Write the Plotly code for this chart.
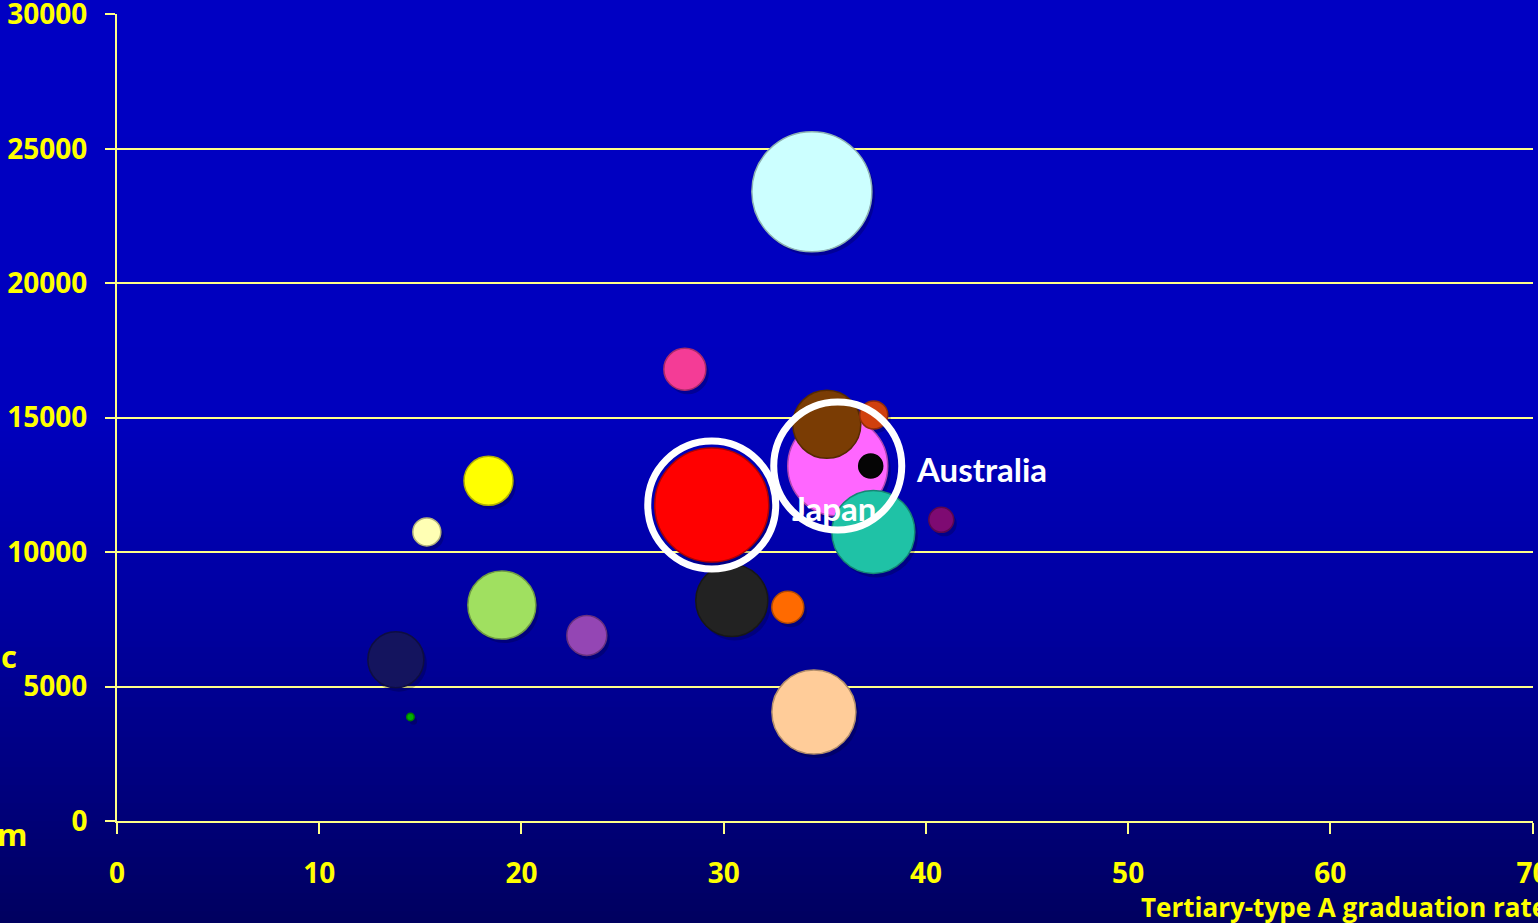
import plotly.graph_objects as go

# ---- data -------------------------------------------------------------
grad_rate = [34.36, 30.40, 34.46, 29.41, 35.64, 37.40, 35.10, 37.42, 37.27,
             28.08, 18.37, 15.32, 19.03, 23.23, 13.79, 14.51, 33.17, 40.76]
spending = [23400, 8200, 4050, 11750, 13200, 10750, 14750, 15100, 13200,
            16800, 12650, 10750, 8030, 6900, 6000, 3870, 7950, 11200]
bubble_value = [3600, 1296, 1764, 3249, 2500, 1722, 1156, 196, 144,
                441, 600, 196, 1156, 400, 784, 14, 256, 156]
bubble_color = ["#CCFFFF", "#222222", "#FFCC99", "#FF0000", "#FF66FF", "#1FC2A6",
                "#7A3C04", "#D0400E", "#050505", "#F43C96", "#FFFF00", "#FFFFB4",
                "#A0E060", "#9446B4", "#14145E", "#00B000", "#FF6A00", "#7E0A72"]
labels = {"Japan": 3, "Australia": 4}

x_ticks = [0, 10, 20, 30, 40, 50, 60, 70]
y_ticks = [0, 5000, 10000, 15000, 20000, 25000, 30000]

W, H = 1538, 923
M_L, M_R, M_T, M_B = 117, 5, 14, 102
PLOT_W = W - M_L - M_R
PLOT_H = H - M_T - M_B
X_RANGE = [0, 70.02]
Y_RANGE = [0, 30010]
SIZEREF = 0.5

GRID = "#FFFF88"
YELLOW = "#FFFF00"


def darker(hex_color, f=0.7):
    h = hex_color.lstrip("#")
    r, g, b = (int(h[i:i + 2], 16) for i in (0, 2, 4))
    return "rgb({},{},{})".format(int(r * f), int(g * f), int(b * f))


fig = go.Figure()

# soft drop shadow under each bubble (a few pixels right and down)
dx = 3 * (X_RANGE[1] - X_RANGE[0]) / PLOT_W
dy = 4 * (Y_RANGE[1] - Y_RANGE[0]) / PLOT_H
fig.add_trace(go.Scatter(
    x=[v + dx for v in grad_rate], y=[v - dy for v in spending],
    mode="markers", hoverinfo="skip", showlegend=False,
    marker=dict(size=bubble_value, sizemode="area", sizeref=SIZEREF,
                color="rgba(0,0,30,0.35)", line=dict(width=0)),
))

# the bubbles
fig.add_trace(go.Scatter(
    x=grad_rate, y=spending, mode="markers", showlegend=False,
    marker=dict(size=bubble_value, sizemode="area", sizeref=SIZEREF,
                color=bubble_color, opacity=1,
                line=dict(width=1.5, color=[darker(c) for c in bubble_color])),
))

# vertical background gradient
stops = [(0, (0, 0, 196)), (420, (0, 0, 190)), (620, (0, 0, 160)),
         (780, (0, 0, 128)), (923, (0, 0, 96))]


def bg_at(py):
    for (a, ca), (b, cb) in zip(stops[:-1], stops[1:]):
        if a <= py <= b:
            t = (py - a) / (b - a)
            return tuple(int(ca[i] + (cb[i] - ca[i]) * t) for i in range(3))
    return stops[-1][1]


shapes = []
step = 6
for py in range(0, H, step):
    c = bg_at(py + step / 2)
    shapes.append(dict(
        type="rect", xref="paper", yref="paper", layer="below",
        x0=-M_L / PLOT_W - 0.01, x1=1 + M_R / PLOT_W + 0.01,
        y0=(H - M_B - py) / PLOT_H + 0.001, y1=(H - M_B - py - step) / PLOT_H - 0.001,
        line=dict(width=0), fillcolor="rgb({},{},{})".format(*c),
    ))

# white rings round the highlighted countries
for name, idx in labels.items():
    shapes.append(dict(
        type="circle", xref="x", yref="y", layer="above",
        xsizemode="pixel", ysizemode="pixel",
        xanchor=grad_rate[idx], yanchor=spending[idx],
        x0=-64, x1=64, y0=-64, y1=64,
        line=dict(color="white", width=7), fillcolor="rgba(0,0,0,0)",
    ))

label_font = dict(family="Comic Sans MS, Lato", size=33, color="white", weight="bold")
annotations = [
    dict(x=grad_rate[labels["Australia"]], y=spending[labels["Australia"]],
         xref="x", yref="y", text="Australia", showarrow=False,
         xanchor="left", yanchor="middle", xshift=76, yshift=-3, font=label_font),
    dict(x=grad_rate[labels["Japan"]], y=spending[labels["Japan"]],
         xref="x", yref="y", text="Japan", showarrow=False,
         xanchor="left", yanchor="middle", xshift=78, yshift=-3, font=label_font),
    # axis titles
    dict(x=(1139 - M_L) / PLOT_W, y=-(907 - (H - M_B)) / PLOT_H,
         xref="paper", yref="paper", text="Tertiary-type A graduation rate",
         showarrow=False, xanchor="left", yanchor="middle",
         font=dict(family="Open Sans", size=26, color=YELLOW, weight="bold")),
    dict(x=(19 - M_L) / PLOT_W, y=(H - M_B - 656) / PLOT_H,
         xref="paper", yref="paper", text="c", showarrow=False,
         xanchor="right", yanchor="middle",
         font=dict(family="Open Sans", size=31, color=YELLOW, weight="bold")),
    dict(x=(29 - M_L) / PLOT_W, y=(H - M_B - 834) / PLOT_H,
         xref="paper", yref="paper", text="m", showarrow=False,
         xanchor="right", yanchor="middle",
         font=dict(family="Open Sans", size=31, color=YELLOW, weight="bold")),
]

tick_font = dict(family="Open Sans", size=28, color=YELLOW, weight="bold")

fig.update_layout(
    width=W, height=H,
    margin=dict(l=M_L, r=M_R, t=M_T, b=M_B, pad=0, autoexpand=False),
    paper_bgcolor="rgb(0,0,96)",
    plot_bgcolor="rgba(0,0,0,0)",
    shapes=shapes,
    annotations=annotations,
    showlegend=False,
    xaxis=dict(range=X_RANGE, tickvals=x_ticks, showgrid=False, zeroline=False,
               showline=True, linecolor=GRID, linewidth=2,
               ticks="outside", ticklen=11, tickwidth=2, tickcolor=GRID,
               tickfont=tick_font, ticklabelstandoff=15,
               ticklabeloverflow="allow", automargin=False),
    yaxis=dict(range=Y_RANGE, tickvals=y_ticks, tickformat="d", showgrid=True,
               gridcolor=GRID, gridwidth=2, zeroline=False, showline=True,
               linecolor=GRID, linewidth=2, ticks="outside", ticklen=10,
               tickwidth=2, tickcolor=GRID, tickfont=tick_font,
               ticklabelstandoff=12, ticklabeloverflow="allow", automargin=False),
)

fig.write_html("out.html")
